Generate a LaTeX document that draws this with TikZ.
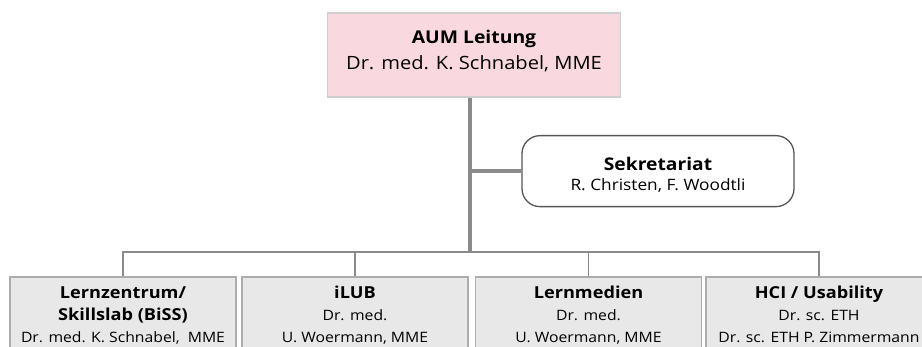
\documentclass[tikz,border=0pt]{standalone}
\usepackage{fontspec}
\setmainfont[FakeStretch=1.1]{Open Sans}
\definecolor{pinkfill}{HTML}{F9D8DF}
\definecolor{pinkline}{HTML}{CFCFCF}
\definecolor{grayfill}{HTML}{E8E8E8}
\definecolor{grayline}{HTML}{ADADAD}
\definecolor{conn}{HTML}{8A8A8A}
\definecolor{secline}{HTML}{555555}
\tikzset{
  topbox/.style={draw=pinkline, fill=pinkfill, line width=1.2pt, anchor=north, inner sep=0pt},
  secbox/.style={draw=secline, line width=1.3pt, rounded corners=18pt, anchor=north, inner sep=0pt},
  unitbox/.style={draw=grayline, fill=grayfill, line width=1.6pt, anchor=north, inner sep=0pt},
  trunk/.style={draw=conn, line width=4pt},
  bus/.style={draw=conn, line width=1.8pt},
}
\newcommand{\hdtxt}[2]{{\fontsize{#1}{10}\selectfont\bfseries #2}}
\newcommand{\unittext}[1]{\parbox[t][100pt][t]{226pt}{\centering\vspace*{9.5pt}\fontsize{14.3}{22}\selectfont #1\par}}
\begin{document}
\begin{tikzpicture}[x=1pt,y=-1pt]
\useasboundingbox (0,0) rectangle (922,347);
\clip (0,0) rectangle (922,347);
\fill[white] (0,0) rectangle (922,347);
\node[topbox] (top) at (474,12.5) {\parbox[t][84pt][t]{293pt}{\centering\vspace*{17pt}\fontsize{18.3}{26}\selectfont\hdtxt{17.6}{AUM Leitung}\\Dr. med. K. Schnabel, MME\par}};
\node[secbox] (sec) at (658,135) {\parbox[t][71pt][t]{272pt}{\centering\vspace*{21.5pt}\fontsize{15.7}{20}\selectfont\hdtxt{17.5}{Sekretariat}\\R. Christen, F. Woodtli\par}};
\coordinate (bus) at (470,252);
\node[unitbox] (b1) at (123,276) {\unittext{\hdtxt{16.5}{Lernzentrum/}\\\hdtxt{16.5}{Skillslab (BiSS)}\\Dr. med. K. Schnabel,\ \ MME}};
\node[unitbox] (b2) at (355,276) {\unittext{\hdtxt{16.5}{iLUB}\\Dr. med.\\U. Woermann, MME}};
\node[unitbox] (b3) at (588.5,276) {\unittext{\hdtxt{16.5}{Lernmedien}\\Dr. med.\\U. Woermann, MME}};
\node[unitbox] (b4) at (819,276) {\unittext{\hdtxt{16.5}{HCI / Usability}\\Dr. sc. ETH\\Dr. sc. ETH P. Zimmermann}};
\draw[trunk] (top.south -| bus) -- (bus);
\draw[trunk] (sec.west -| bus) -- (sec.west);
\draw[bus] (b1.north) -- (b1.north |- bus) -- (b4.north |- bus) -- (b4.north);
\draw[bus] (b2.north) -- (b2.north |- bus);
\draw[bus] (b3.north) -- (b3.north |- bus);
\end{tikzpicture}
\end{document}
